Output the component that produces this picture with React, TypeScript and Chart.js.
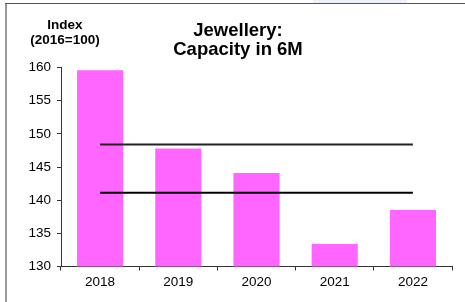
import React, { useEffect, useRef } from "react";
import { Chart, registerables } from "chart.js";

Chart.register(...registerables);

const categories = ["2018", "2019", "2020", "2021", "2022"];
const capacityValues = [159.6, 147.8, 144.1, 133.4, 138.5];
const upperBand = [148.4, 148.4, 148.4, 148.4, 148.4];
const lowerBand = [141.1, 141.1, 141.1, 141.1, 141.1];
const titleLines = ["Jewellery:", "Capacity in 6M"];
const axisTitleLines = ["Index", "(2016=100)"];

const FONT = '"Liberation Sans", Arial, sans-serif';

const textPlugin = {
  id: "customText",
  afterDraw(chart: any) {
    const ctx = chart.ctx;
    ctx.save();
    ctx.fillStyle = "#000";
    ctx.textAlign = "center";
    ctx.textBaseline = "middle";
    ctx.font = `bold 13.5px ${FONT}`;
    ctx.fillText(axisTitleLines[0], 65, 25);
    ctx.fillText(axisTitleLines[1], 65, 40);
    ctx.font = `bold 18.5px ${FONT}`;
    ctx.fillText(titleLines[0], 238, 31);
    ctx.fillText(titleLines[1], 238, 50);
    ctx.restore();
  },
};

export default function App() {
  const ref = useRef<HTMLCanvasElement>(null);
  useEffect(() => {
    document.body.style.margin = "0";
    const chart = new Chart(ref.current as HTMLCanvasElement, {
      type: "bar",
      data: {
        labels: categories,
        datasets: [
          {
            type: "line",
            data: upperBand,
            borderColor: "#222",
            borderWidth: 2,
            pointRadius: 0,
            order: 0,
          } as any,
          {
            type: "line",
            data: lowerBand,
            borderColor: "#000",
            borderWidth: 2,
            pointRadius: 0,
            order: 0,
          } as any,
          {
            type: "bar",
            data: capacityValues,
            backgroundColor: "#FF66FF",
            borderWidth: 0,
            categoryPercentage: 1,
            barPercentage: 0.59,
            order: 2,
          },
        ],
      },
      options: {
        animation: false,
        responsive: false,
        layout: { padding: { left: 0, right: 13, top: 67.5, bottom: 0 } },
        plugins: {
          legend: { display: false },
          tooltip: { enabled: false },
          title: { display: false },
        },
        scales: {
          x: {
            grid: {
              display: true,
              drawOnChartArea: false,
              drawTicks: true,
              tickLength: 4,
              color: "#333",
              offset: true,
            },
            border: { color: "#333", width: 1 },
            ticks: {
              color: "#000",
              font: { family: FONT, size: 13.5 },
              padding: 4,
              maxRotation: 0,
            },
            afterFit: (scale: any) => {
              scale.height = 35.5;
            },
          },
          y: {
            min: 130,
            max: 160,
            grid: {
              display: true,
              drawOnChartArea: false,
              drawTicks: true,
              tickLength: 4,
              color: "#333",
            },
            border: { color: "#333", width: 1 },
            ticks: {
              stepSize: 5,
              color: "#000",
              font: { family: FONT, size: 13.5 },
              padding: 6,
            },
            afterFit: (scale: any) => {
              scale.width = 61;
            },
          },
        },
      },
      plugins: [textPlugin],
    });
    return () => chart.destroy();
  }, []);

  return (
    <div style={{ position: "relative", width: 465, height: 302, background: "#fff" }}>
      <canvas ref={ref} width={465} height={302} style={{ position: "absolute", left: 0, top: 0 }} />
      <div style={{ position: "absolute", left: 5, top: 3, width: 2, height: 299, background: "#999" }} />
      <div style={{ position: "absolute", left: 5, top: 3, width: 460, height: 1, background: "#555" }} />
      <div style={{ position: "absolute", left: 313, top: 0, width: 94, height: 3, background: "#eef0fa" }} />
    </div>
  );
}
